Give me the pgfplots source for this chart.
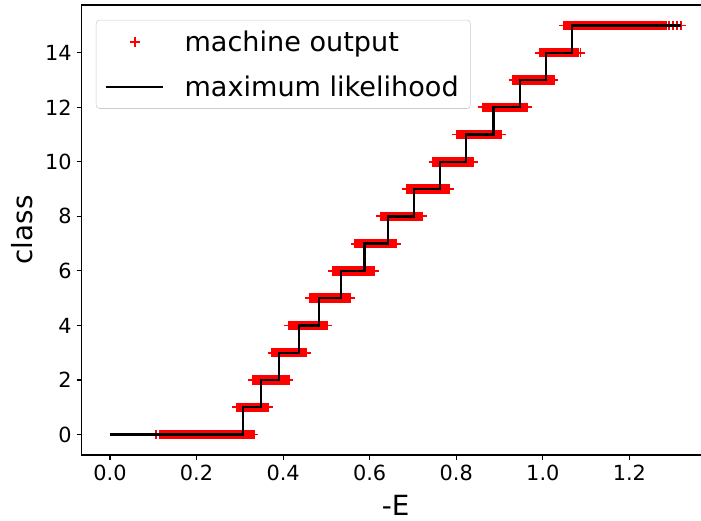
\documentclass[border=0pt]{standalone}
\usepackage{fontspec}
\setmainfont{DejaVu Sans}
\usepackage{pgfplots}
\pgfplotsset{compat=1.18}
\begin{document}
\begin{tikzpicture}
\begin{axis}[
  scale only axis,
  clip mode=individual,
  width=452.5pt, height=324pt,
  xmin=-0.066, xmax=1.386,
  ymin=-0.75, ymax=15.75,
  xtick={0,0.2,0.4,0.6,0.8,1.0,1.2},
  xticklabels={0.0,0.2,0.4,0.6,0.8,1.0,1.2},
  ytick={0,2,4,6,8,10,12,14},
  yticklabels={0,2,4,6,8,10,12,14},
  tick pos=left,
  tick align=outside,
  major tick length=3.5pt,
  tick style={black, line width=0.8pt},
  axis line style={line width=0.8pt},
  tick label style={font=\fontsize{15}{18}\selectfont},
  label style={font=\fontsize{20}{24}\selectfont},
  xlabel={-E},
  ylabel={class},
  xlabel style={at={(axis description cs:0.5,-0.1333)}, anchor=base},
  ylabel style={at={(axis description cs:-0.0945,0.5)}, anchor=center},
  legend cell align=left,
  legend image code/.code={\draw[sharp corners,mark repeat=2,mark phase=2,#1] plot coordinates {(0pt,0pt)(20.5pt,0pt)(41pt,0pt)};},
  legend style={at={(axis description cs:0.023,0.967)}, anchor=north west,
    draw=black!20, rounded corners=2.5pt, fill=white, fill opacity=0.8, text opacity=1,
    font=\fontsize{19.5}{23}\selectfont, inner xsep=6.5pt, inner ysep=5.5pt, row sep=12pt, column sep=12.5pt},
]
\addplot[only marks, mark=+, color=red, mark size=3.4pt, mark options={line width=1.3pt}] coordinates {
(0.106,0)(0.116,0)(0.120,0)(0.124,0)(0.128,0)(0.132,0)(0.136,0)(0.140,0)(0.144,0)(0.148,0)(0.152,0)(0.156,0)(0.160,0)(0.164,0)(0.168,0)(0.172,0)(0.176,0)(0.180,0)(0.184,0)(0.188,0)(0.192,0)(0.196,0)(0.200,0)(0.204,0)(0.208,0)(0.212,0)(0.216,0)(0.220,0)(0.224,0)(0.228,0)(0.232,0)(0.236,0)(0.240,0)(0.244,0)(0.248,0)(0.252,0)(0.256,0)(0.260,0)(0.264,0)(0.268,0)(0.272,0)(0.276,0)(0.280,0)(0.284,0)(0.288,0)(0.292,0)(0.296,0)(0.300,0)(0.304,0)(0.308,0)(0.312,0)(0.316,0)(0.320,0)(0.324,0)(0.328,0)(0.332,0)
(0.293,1)(0.297,1)(0.301,1)(0.305,1)(0.309,1)(0.313,1)(0.317,1)(0.321,1)(0.325,1)(0.329,1)(0.333,1)(0.337,1)(0.341,1)(0.345,1)(0.349,1)(0.353,1)(0.357,1)(0.361,1)(0.365,1)(0.366,1)
(0.330,2)(0.334,2)(0.338,2)(0.342,2)(0.346,2)(0.350,2)(0.354,2)(0.358,2)(0.362,2)(0.366,2)(0.370,2)(0.374,2)(0.378,2)(0.382,2)(0.386,2)(0.390,2)(0.394,2)(0.398,2)(0.402,2)(0.406,2)(0.410,2)(0.413,2)
(0.375,3)(0.379,3)(0.383,3)(0.387,3)(0.391,3)(0.395,3)(0.399,3)(0.403,3)(0.407,3)(0.411,3)(0.415,3)(0.419,3)(0.423,3)(0.427,3)(0.431,3)(0.435,3)(0.439,3)(0.443,3)(0.447,3)(0.451,3)(0.453,3)
(0.413,4)(0.417,4)(0.421,4)(0.425,4)(0.429,4)(0.433,4)(0.437,4)(0.441,4)(0.445,4)(0.449,4)(0.453,4)(0.457,4)(0.461,4)(0.465,4)(0.469,4)(0.473,4)(0.477,4)(0.481,4)(0.485,4)(0.489,4)(0.493,4)(0.497,4)(0.501,4)(0.502,4)
(0.461,5)(0.465,5)(0.469,5)(0.473,5)(0.477,5)(0.481,5)(0.485,5)(0.489,5)(0.493,5)(0.497,5)(0.501,5)(0.505,5)(0.509,5)(0.513,5)(0.517,5)(0.521,5)(0.525,5)(0.529,5)(0.533,5)(0.537,5)(0.541,5)(0.545,5)(0.549,5)(0.553,5)(0.555,5)
(0.515,6)(0.519,6)(0.523,6)(0.527,6)(0.531,6)(0.535,6)(0.539,6)(0.543,6)(0.547,6)(0.551,6)(0.555,6)(0.559,6)(0.563,6)(0.567,6)(0.571,6)(0.575,6)(0.579,6)(0.583,6)(0.587,6)(0.591,6)(0.595,6)(0.599,6)(0.603,6)(0.607,6)(0.610,6)
(0.567,7)(0.571,7)(0.575,7)(0.579,7)(0.583,7)(0.587,7)(0.591,7)(0.595,7)(0.599,7)(0.603,7)(0.607,7)(0.611,7)(0.615,7)(0.619,7)(0.623,7)(0.627,7)(0.631,7)(0.635,7)(0.639,7)(0.643,7)(0.647,7)(0.651,7)(0.655,7)(0.659,7)(0.662,7)
(0.625,8)(0.629,8)(0.633,8)(0.637,8)(0.641,8)(0.645,8)(0.649,8)(0.653,8)(0.657,8)(0.661,8)(0.665,8)(0.669,8)(0.673,8)(0.677,8)(0.681,8)(0.685,8)(0.689,8)(0.693,8)(0.697,8)(0.701,8)(0.705,8)(0.709,8)(0.713,8)(0.717,8)(0.721,8)
(0.685,9)(0.689,9)(0.693,9)(0.697,9)(0.701,9)(0.705,9)(0.709,9)(0.713,9)(0.717,9)(0.721,9)(0.725,9)(0.729,9)(0.733,9)(0.737,9)(0.741,9)(0.745,9)(0.749,9)(0.753,9)(0.757,9)(0.761,9)(0.765,9)(0.769,9)(0.773,9)(0.777,9)(0.781,9)(0.783,9)
(0.747,10)(0.751,10)(0.755,10)(0.759,10)(0.763,10)(0.767,10)(0.771,10)(0.775,10)(0.779,10)(0.783,10)(0.787,10)(0.791,10)(0.795,10)(0.799,10)(0.803,10)(0.807,10)(0.811,10)(0.815,10)(0.819,10)(0.823,10)(0.827,10)(0.831,10)(0.835,10)(0.839,10)
(0.802,11)(0.806,11)(0.810,11)(0.814,11)(0.818,11)(0.822,11)(0.826,11)(0.830,11)(0.834,11)(0.838,11)(0.842,11)(0.846,11)(0.850,11)(0.854,11)(0.858,11)(0.862,11)(0.866,11)(0.870,11)(0.874,11)(0.878,11)(0.882,11)(0.886,11)(0.890,11)(0.894,11)(0.898,11)(0.902,11)(0.903,11)
(0.862,12)(0.866,12)(0.870,12)(0.874,12)(0.878,12)(0.882,12)(0.886,12)(0.890,12)(0.894,12)(0.898,12)(0.902,12)(0.906,12)(0.910,12)(0.914,12)(0.918,12)(0.922,12)(0.926,12)(0.930,12)(0.934,12)(0.938,12)(0.942,12)(0.946,12)(0.950,12)(0.954,12)(0.958,12)(0.962,12)(0.963,12)
(0.932,13)(0.936,13)(0.940,13)(0.944,13)(0.948,13)(0.952,13)(0.956,13)(0.960,13)(0.964,13)(0.968,13)(0.972,13)(0.976,13)(0.980,13)(0.984,13)(0.988,13)(0.992,13)(0.996,13)(1.000,13)(1.004,13)(1.008,13)(1.012,13)(1.016,13)(1.020,13)(1.024,13)(1.025,13)
(0.994,14)(0.998,14)(1.002,14)(1.006,14)(1.010,14)(1.014,14)(1.018,14)(1.022,14)(1.026,14)(1.030,14)(1.034,14)(1.038,14)(1.042,14)(1.046,14)(1.050,14)(1.054,14)(1.058,14)(1.062,14)(1.066,14)(1.070,14)(1.074,14)(1.078,14)(1.082,14)(1.087,14)
(1.049,15)(1.053,15)(1.057,15)(1.061,15)(1.065,15)(1.069,15)(1.073,15)(1.077,15)(1.081,15)(1.085,15)(1.089,15)(1.093,15)(1.097,15)(1.101,15)(1.105,15)(1.109,15)(1.113,15)(1.117,15)(1.121,15)(1.125,15)(1.129,15)(1.133,15)(1.137,15)(1.141,15)(1.145,15)(1.149,15)(1.153,15)(1.157,15)(1.161,15)(1.165,15)(1.169,15)(1.173,15)(1.177,15)(1.181,15)(1.185,15)(1.189,15)(1.193,15)(1.197,15)(1.201,15)(1.205,15)(1.209,15)(1.213,15)(1.217,15)(1.221,15)(1.225,15)(1.229,15)(1.233,15)(1.237,15)(1.241,15)(1.245,15)(1.249,15)(1.253,15)(1.257,15)(1.261,15)(1.265,15)(1.269,15)(1.273,15)(1.277,15)(1.281,15)(1.284,15)(1.291,15)(1.301,15)(1.310,15)(1.319,15)
};
\addlegendentry{machine output}
\addplot[black, line width=1.7pt, const plot] coordinates {
(0,0)(0.308,1)(0.349,2)(0.391,3)(0.436,4)(0.483,5)(0.534,6)(0.588,7)(0.642,8)(0.702,9)(0.762,10)(0.822,11)(0.886,12)(0.947,13)(1.008,14)(1.067,15)(1.320,15)
};
\addlegendentry{maximum likelihood}
\end{axis}
\pgfresetboundingbox
\path[use as bounding box] ([xshift=-58.6pt,yshift=-46.8pt]current axis.south west) rectangle ([xshift=446.1pt,yshift=3.6pt]current axis.north west);
\end{tikzpicture}
\end{document}
